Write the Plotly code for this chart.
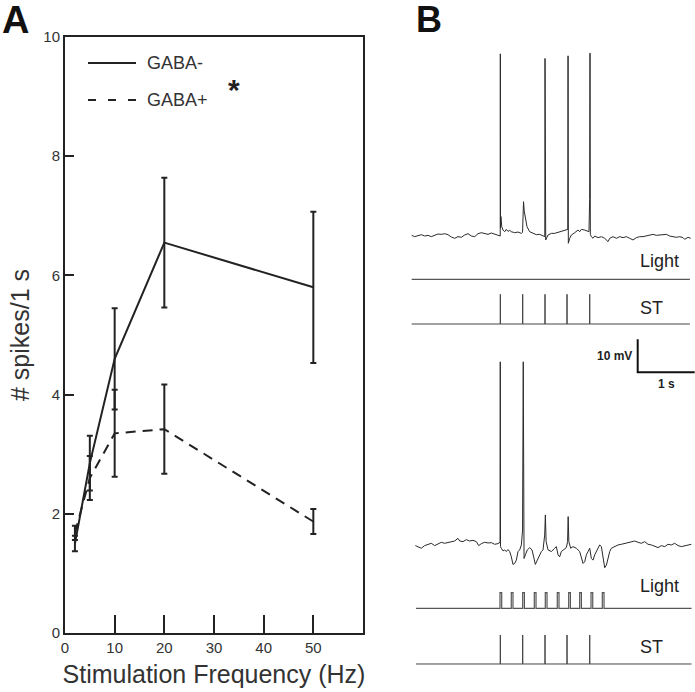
import plotly.graph_objects as go

W, H = 695, 692
FONT = "Liberation Sans, Arial, Helvetica, sans-serif"
INK = "#222222"

# ---------------- Panel A data ----------------
freq = [2, 5, 10, 20, 50]
gaba_minus = [1.50, 2.85, 4.60, 6.55, 5.80]
gaba_minus_err = [0.13, 0.46, 0.85, 1.09, 1.27]
gaba_plus = [1.68, 2.60, 3.35, 3.42, 1.87]
gaba_plus_err = [0.12, 0.37, 0.73, 0.75, 0.21]
series_names = ["GABA-", "GABA+"]
x_ticks = [0, 10, 20, 30, 40, 50]
y_ticks = [0, 2, 4, 6, 8, 10]

# ---------------- Panel B data (time in s, Vm relative to rest in mV) ----------------
top_t = [0.000, 0.052, 0.110, 0.169, 0.227, 0.286, 0.344, 0.403, 0.461, 0.520, 0.578, 0.637,
         0.695, 0.754, 0.812, 0.871, 0.929, 0.988, 1.046, 1.105, 1.163, 1.222, 1.280, 1.339,
         1.397, 1.456, 1.514, 1.548, 1.553, 1.555, 1.558, 1.565, 1.580, 1.602, 1.631, 1.660,
         1.689, 1.719, 1.748, 1.807, 1.865, 1.924, 1.945, 1.962, 1.975, 1.994, 2.023, 2.070,
         2.129, 2.187, 2.246, 2.304, 2.335, 2.339, 2.343, 2.351, 2.392, 2.450, 2.508, 2.567,
         2.625, 2.684, 2.738, 2.743, 2.748, 2.772, 2.801, 2.860, 2.918, 2.947, 2.977, 3.035,
         3.082, 3.110, 3.122, 3.128, 3.134, 3.152, 3.181, 3.211, 3.269, 3.328, 3.386, 3.445,
         3.474, 3.532, 3.591, 3.649, 3.708, 3.766, 3.825, 3.883, 3.942, 4.000, 4.058, 4.117,
         4.175, 4.234, 4.292, 4.351, 4.409, 4.468, 4.526, 4.585, 4.643, 4.702, 4.760, 4.789,
         4.848, 4.895]
top_v = [0.2, -0.2, 0.1, 0.4, 0.0, 0.2, -0.2, 0.3, 0.6, 0.5, 0.7, 0.4,
         -0.3, -0.7, -0.2, -0.4, 0.3, 0.7, 0.0, -0.2, 0.7, 1.0, 0.8, 0.5,
         0.9, 0.5, 0.1, -0.2, 0.0, 55.2, 2.5, 5.9, 2.8, 1.8, 1.3, 2.0,
         1.4, 1.7, 1.3, 1.0, 1.2, 0.8, 1.1, 10.4, 7.5, 5.4, 2.8, 1.3,
         0.8, 0.4, 0.5, 0.0, -0.2, 53.8, -1.2, -1.2, 0.3, 0.8, 0.8, 1.1,
         1.3, 1.6, 2.0, 54.6, -2.2, -0.7, 0.3, 1.0, 1.8, 1.3, 2.0, 1.8,
         1.6, 1.3, 11.0, 55.4, 0.5, -0.2, -0.7, 0.0, -0.5, -0.2, -0.7, -1.7,
         -0.7, -0.2, -0.7, -0.2, -0.5, -0.2, -0.7, -1.2, -0.5, -0.2, -0.2, 0.0,
         0.3, 0.5, 0.2, 0.3, 0.6, 0.5, 0.0, -0.2, -0.4, -0.2, -0.5, -1.0,
         -0.4, -0.7]

bot_t = [0.064, 0.110, 0.169, 0.227, 0.286, 0.344, 0.403, 0.461, 0.520, 0.578, 0.637, 0.695,
         0.754, 0.812, 0.842, 0.900, 0.959, 1.017, 1.076, 1.134, 1.175, 1.222, 1.280, 1.339,
         1.397, 1.456, 1.514, 1.550, 1.554, 1.558, 1.572, 1.602, 1.631, 1.660, 1.689, 1.719,
         1.748, 1.777, 1.807, 1.836, 1.865, 1.894, 1.924, 1.945, 1.957, 1.962, 1.971, 1.994,
         2.029, 2.070, 2.111, 2.146, 2.169, 2.204, 2.246, 2.275, 2.304, 2.333, 2.345, 2.358,
         2.392, 2.450, 2.508, 2.538, 2.567, 2.596, 2.625, 2.655, 2.684, 2.713, 2.735, 2.745,
         2.757, 2.789, 2.830, 2.889, 2.947, 3.006, 3.035, 3.064, 3.094, 3.123, 3.152, 3.181,
         3.211, 3.240, 3.269, 3.298, 3.328, 3.357, 3.386, 3.416, 3.445, 3.474, 3.503, 3.562,
         3.620, 3.679, 3.737, 3.796, 3.854, 3.913, 3.971, 4.030, 4.088, 4.146, 4.205, 4.263,
         4.322, 4.380, 4.439, 4.497, 4.556, 4.614, 4.673, 4.731, 4.789, 4.848, 4.906]
bot_v = [-0.7, -1.0, -1.5, -0.7, -0.3, 0.0, -0.7, -0.1, 0.3, 0.0, 0.3, 0.5,
         0.7, 1.5, 0.7, 0.5, 1.1, 0.7, 0.9, 0.5, -0.7, -0.1, 0.3, 0.1,
         0.2, -0.3, -0.1, 0.3, 55.0, -1.0, -1.5, -2.3, -2.0, -2.5, -1.9, -2.5,
         -4.1, -6.4, -6.1, -5.1, -2.5, -2.0, -0.5, 4.0, 55.0, -3.0, -4.6, -3.5,
         -2.0, -1.3, -2.0, -4.6, -6.4, -5.1, -3.5, -2.5, -2.0, 2.5, 8.6, 0.5,
         -2.0, -2.5, -1.5, -1.0, -3.5, -4.1, -2.5, -2.0, -1.5, -1.3, 0.5, 8.1,
         0.5, -1.5, -1.0, -1.5, -2.5, -6.1, -5.6, -3.5, -2.5, -1.5, -4.6, -5.1,
         -3.5, -2.5, -1.5, -0.5, -1.0, -4.6, -7.4, -6.6, -4.1, -2.5, -1.5, -1.0,
         -0.5, -0.3, 0.0, 0.3, 0.5, 0.7, 0.3, 0.0, 0.5, -0.3, -0.5, -1.0,
         -1.3, -0.7, -1.0, -0.3, -0.5, 0.0, -0.7, -1.0, -0.7, -0.5, -0.3]

st_pulses = [1.555, 1.947, 2.339, 2.725, 3.123]          # stimulation times (s)
light_pulses_top = []                                      # no light in top condition
light_pulses_bot = [1.549, 1.747, 1.947, 2.151, 2.344, 2.554, 2.754, 2.947, 3.146, 3.344]
top_span = [0.0, 4.88]
bot_span = [0.075, 4.91]
light_width = 0.03
scale_mv = 10
scale_s = 1

# ---------------- helpers (layout only) ----------------
PX_PER_S = 57.0
T0_PX = 411.7


def ydom(base_px, k, lo, hi):
    bottom = base_px - lo * k
    top = base_px - hi * k
    return [(H - bottom) / H, (H - top) / H]


def pulse_train(times, span, width=0.0):
    xs, ys = [span[0]], [0]
    for t in times:
        if width > 0:
            xs += [t, t, t + width, t + width]
            ys += [0, 1, 1, 0]
        else:
            xs += [t, t, t]
            ys += [0, 1, 0]
    xs.append(span[1])
    ys.append(0)
    return xs, ys


def px(x):
    return x / W


def py(y):
    return 1 - y / H


fig = go.Figure()

# ---------------- Panel A traces ----------------
fig.add_trace(go.Scatter(
    x=freq, y=gaba_minus, name=series_names[0], mode="lines",
    line=dict(color=INK, width=2),
    error_y=dict(type="data", array=gaba_minus_err, color=INK, thickness=2, width=3),
    showlegend=False,
))
fig.add_trace(go.Scatter(
    x=freq, y=gaba_plus, name=series_names[1], mode="lines",
    line=dict(color=INK, width=2, dash="10px,7px"),
    error_y=dict(type="data", array=gaba_plus_err, color=INK, thickness=2, width=3),
    showlegend=False,
))

# ---------------- Panel B traces ----------------
trace_line = dict(color="#2a2a2a", width=1)
fig.add_trace(go.Scatter(x=top_t, y=top_v, mode="lines", line=trace_line,
                         xaxis="x2", yaxis="y2", showlegend=False, hoverinfo="skip"))
lx, ly = pulse_train(light_pulses_top, top_span, light_width)
fig.add_trace(go.Scatter(x=lx, y=ly, mode="lines", line=dict(color="#555555", width=1.3),
                         xaxis="x2", yaxis="y3", showlegend=False, hoverinfo="skip"))
sx, sy = pulse_train(st_pulses, top_span)
fig.add_trace(go.Scatter(x=sx, y=sy, mode="lines", line=dict(color="#444444", width=1),
                         xaxis="x2", yaxis="y4", showlegend=False, hoverinfo="skip"))
fig.add_trace(go.Scatter(x=bot_t, y=bot_v, mode="lines", line=trace_line,
                         xaxis="x2", yaxis="y5", showlegend=False, hoverinfo="skip"))
lx, ly = pulse_train(light_pulses_bot, bot_span, light_width)
fig.add_trace(go.Scatter(x=lx, y=ly, mode="lines", line=dict(color="#555555", width=1.2),
                         xaxis="x2", yaxis="y6", showlegend=False, hoverinfo="skip"))
sx, sy = pulse_train(st_pulses, bot_span)
fig.add_trace(go.Scatter(x=sx, y=sy, mode="lines", line=dict(color="#444444", width=1),
                         xaxis="x2", yaxis="y7", showlegend=False, hoverinfo="skip"))

# scale bar (10 mV, 1 s) drawn in bottom Vm axis units
sb_t0 = 3.965
sb_v0 = 51.8
fig.add_trace(go.Scatter(x=[sb_t0, sb_t0, sb_t0 + scale_s], y=[sb_v0 + scale_mv, sb_v0, sb_v0],
                         mode="lines", line=dict(color="#111111", width=2),
                         xaxis="x2", yaxis="y5", showlegend=False, hoverinfo="skip",
                         cliponaxis=False))

hidden = dict(visible=False, showgrid=False, zeroline=False, fixedrange=True, automargin=False)

layout = dict(
    width=W, height=H,
    margin=dict(l=0, r=0, t=0, b=0, autoexpand=False),
    paper_bgcolor="white", plot_bgcolor="rgba(0,0,0,0)",
    font=dict(family=FONT, color="#333333"),
    showlegend=False,
    xaxis=dict(domain=[65 / W, 363 / W], range=[0, 60], tickvals=x_ticks,
               ticks="inside", ticklen=18, tickwidth=2, tickcolor=INK,
               showline=True, linewidth=2, linecolor=INK, mirror=True,
               showgrid=False, zeroline=False, automargin=False,
               tickfont=dict(size=15, color="#333333"),
               title=dict(text="Stimulation Frequency (Hz)", font=dict(size=25, color="#333333"),
                          standoff=10),
               anchor="y"),
    yaxis=dict(domain=[(H - 633) / H, (H - 37) / H], range=[0, 10], tickvals=y_ticks,
               ticks="inside", ticklen=9, tickwidth=2, tickcolor=INK,
               showline=True, linewidth=2, linecolor=INK, mirror=True,
               showgrid=False, zeroline=False, automargin=False,
               tickfont=dict(size=15, color="#333333"),
               title=dict(text="# spikes/1 s", font=dict(size=25, color="#333333"),
                          standoff=7),
               anchor="x"),
    xaxis2=dict(domain=[400 / W, 1.0],
                range=[(400 - T0_PX) / PX_PER_S, (W - T0_PX) / PX_PER_S],
                anchor="y2", **hidden),
    yaxis2=dict(domain=ydom(236, 3.3, -5, 58), range=[-5, 58], anchor="x2", **hidden),
    yaxis3=dict(domain=ydom(279.3, 10, -1, 1), range=[-1, 1], anchor="x2", **hidden),
    yaxis4=dict(domain=ydom(324, 29.7, -0.1, 1.05), range=[-0.1, 1.05], anchor="x2", **hidden),
    yaxis5=dict(domain=ydom(543.3, 3.3, -9, 62), range=[-9, 62], anchor="x2", **hidden),
    yaxis6=dict(domain=ydom(608.3, 15.6, -0.2, 1.1), range=[-0.2, 1.1], anchor="x2", **hidden),
    yaxis7=dict(domain=ydom(664, 29, -0.1, 1.05), range=[-0.1, 1.05], anchor="x2", **hidden),
)
fig.update_layout(**layout)

# legend keys (drawn in paper space)
legend_rows = [63, 100]
legend_dash = ["solid", "8px,12px"]
shapes = []
for row, dash in zip(legend_rows, legend_dash):
    shapes.append(dict(type="line", xref="paper", yref="paper",
                       x0=px(88), x1=px(136), y0=py(row), y1=py(row),
                       line=dict(color=INK, width=2, dash=dash)))
fig.update_layout(shapes=shapes)

ann = [
    dict(text="<b>A</b>", x=px(0), y=py(-3), xanchor="left", yanchor="top",
         font=dict(size=38, color="#111111")),
    dict(text="<b>B</b>", x=px(414), y=py(-3), xanchor="left", yanchor="top",
         font=dict(size=36, color="#111111")),
    dict(text="<b>*</b>", x=px(234), y=py(89), xanchor="center", yanchor="middle",
         font=dict(size=30, color="#222222")),
    dict(text="Light", x=px(638), y=py(261), xanchor="left", yanchor="middle",
         font=dict(size=18, color="#222222")),
    dict(text="ST", x=px(638), y=py(308), xanchor="left", yanchor="middle",
         font=dict(size=18, color="#222222")),
    dict(text="Light", x=px(638), y=py(586), xanchor="left", yanchor="middle",
         font=dict(size=18, color="#222222")),
    dict(text="ST", x=px(638), y=py(647), xanchor="left", yanchor="middle",
         font=dict(size=18, color="#222222")),
]
for row, name in zip(legend_rows, series_names):
    ann.append(dict(text=name, x=px(145), y=py(row), xanchor="left", yanchor="middle",
                    font=dict(size=18, color="#333333")))
for a in ann:
    a.update(xref="paper", yref="paper", showarrow=False)
ann += [
    dict(text="<b>10 mV</b>", x=sb_t0, y=sb_v0 + scale_mv / 2, xref="x2", yref="y5",
         xanchor="right", yanchor="middle", xshift=-4, showarrow=False,
         font=dict(size=12, color="#222222")),
    dict(text="<b>1 s</b>", x=sb_t0 + scale_s / 2, y=sb_v0, xref="x2", yref="y5",
         xanchor="center", yanchor="top", yshift=-3, showarrow=False,
         font=dict(size=12, color="#222222")),
]
fig.update_layout(annotations=ann)

fig.write_html("out.html",
               config={"displayModeBar": False},
               post_script="document.body.style.margin='0';document.body.style.padding='0';")
